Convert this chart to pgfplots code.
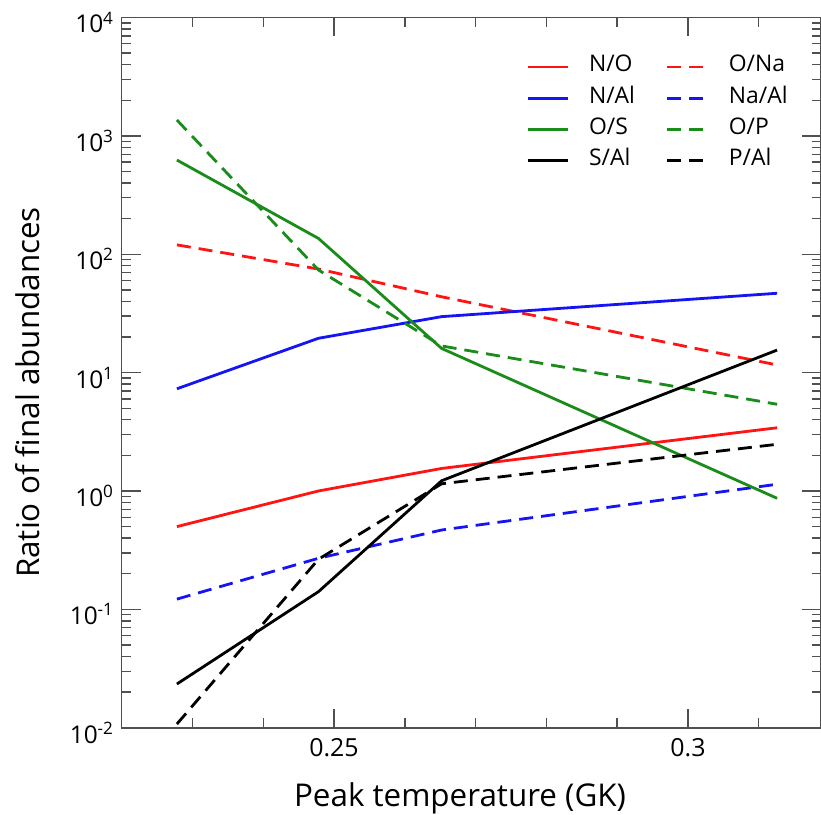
\documentclass[border=0pt]{standalone}
\usepackage{pgfplots}
\pgfplotsset{compat=1.18}
\usepackage{fontspec}
\setmainfont{Open Sans}
\definecolor{cred}{RGB}{255,20,20}
\definecolor{cblue}{RGB}{20,20,245}
\definecolor{cgreen}{RGB}{25,140,25}
\definecolor{axgray}{RGB}{80,80,80}
\begin{document}
\begin{tikzpicture}
\begin{axis}[
  at={(0,0)}, anchor=south west,
  scale only axis, width=699.3bp, height=710.2bp,
  xmin=0.22, xmax=0.3188,
  ymode=log, ymin=1e-2, ymax=1e4,
  xtick={0.25,0.3}, xticklabels={0.25,0.3},
  minor xtick={0.23,0.24,0.26,0.27,0.28,0.29,0.31},
  ytick={1e-2,1e-1,1,1e1,1e2,1e3,1e4},
  yticklabels={10\textsuperscript{-2},10\textsuperscript{-1},10\textsuperscript{0},10\textsuperscript{1},10\textsuperscript{2},10\textsuperscript{3},10\textsuperscript{4}},
  minor ytick={2e-2,3e-2,4e-2,5e-2,6e-2,7e-2,8e-2,9e-2,
               2e-1,3e-1,4e-1,5e-1,6e-1,7e-1,8e-1,9e-1,
               2,3,4,5,6,7,8,9,
               20,30,40,50,60,70,80,90,
               200,300,400,500,600,700,800,900,
               2000,3000,4000,5000,6000,7000,8000,9000},
  axis line style={draw=axgray, line width=1.6bp},
  major tick length=19bp, minor tick length=9.5bp,
  every tick/.style={draw=axgray, line width=1.4bp},
  tick align=inside,
  xticklabel style={font=\fontsize{25}{27}\selectfont, anchor=base, yshift=-29bp, inner sep=0pt},
  yticklabel style={font=\fontsize{24.5}{26}\selectfont, anchor=base east, xshift=-8bp, yshift=-15.5bp, inner sep=0pt},
  xlabel={Peak temperature (GK)},
  ylabel={Ratio of final abundances},
  xlabel style={at={(axis description cs:0.48376,-0.11025)}, anchor=base, font=\fontsize{31.5}{34}\selectfont, inner sep=0pt},
  ylabel style={at={(axis description cs:-0.11683,0.47198)}, anchor=base, font=\fontsize{31.5}{34}\selectfont, inner sep=0pt},
  legend columns=2,
  legend cell align=left,
  legend image code/.code={\draw[#1] (0bp,0bp) -- (40bp,0bp);},
  legend style={at={(axis description cs:0.5782,0.9448)}, anchor=north west, draw=none, fill=none, inner sep=0pt,
    font=\fontsize{23}{25}\selectfont,
    nodes={inner sep=0pt, text height=15bp, text depth=5bp},
    row sep=11.3bp,
    /tikz/every odd column/.style={column sep=20bp},
    /tikz/every even column/.style={column sep=31bp}},
]
\addplot[cred, solid, line width=2.8bp] coordinates {(0.2278,0.50) (0.2478,1.00) (0.2652,1.55) (0.3126,3.42)};
\addlegendentry{N/O}
\addplot[cred, line width=2.8bp, dash pattern=on 14bp off 8bp] coordinates {(0.2278,120) (0.2478,75) (0.2652,43.7) (0.3126,11.6)};
\addlegendentry{O/Na}
\addplot[cblue, solid, line width=2.8bp] coordinates {(0.2278,7.3) (0.2478,19.5) (0.2652,29.7) (0.3126,46.8)};
\addlegendentry{N/Al}
\addplot[cblue, line width=2.8bp, dash pattern=on 14bp off 8bp] coordinates {(0.2278,0.122) (0.2478,0.27) (0.2652,0.468) (0.3126,1.14)};
\addlegendentry{Na/Al}
\addplot[cgreen, solid, line width=2.8bp] coordinates {(0.2278,625) (0.2478,136) (0.2652,16.0) (0.3126,0.867)};
\addlegendentry{O/S}
\addplot[cgreen, line width=2.8bp, dash pattern=on 14bp off 8bp] coordinates {(0.2278,1361) (0.2478,73.6) (0.2652,16.8) (0.3126,5.4)};
\addlegendentry{O/P}
\addplot[black, solid, line width=2.8bp] coordinates {(0.2278,0.0234) (0.2478,0.141) (0.2652,1.22) (0.3126,15.5)};
\addlegendentry{S/Al}
\addplot[black, line width=2.8bp, dash pattern=on 14bp off 8bp] coordinates {(0.2278,0.01074) (0.2478,0.265) (0.2652,1.15) (0.3126,2.48)};
\addlegendentry{P/Al}
\end{axis}
\pgfresetboundingbox
\path[use as bounding box] (-121.7bp,-87.3bp) rectangle (699.3bp,727.7bp);
\end{tikzpicture}
\end{document}
